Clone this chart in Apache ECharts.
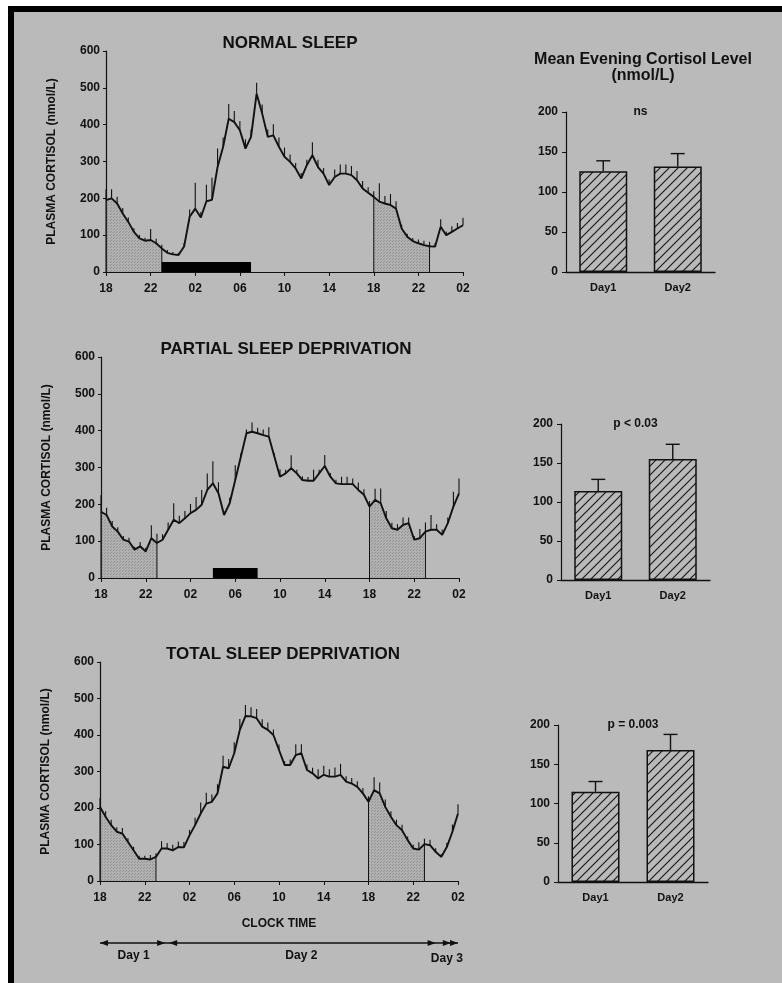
<!DOCTYPE html>
<html>
<head>
<meta charset="utf-8">
<script src="https://cdn.jsdelivr.net/npm/echarts@6/dist/echarts.min.js"></script>
<style>
  html, body { margin: 0; padding: 0; background: #fff; }
  #c { width: 782px; height: 983px; }
</style>
</head>
<body>
<div id="c"></div>
<script>
// ---- data -------------------------------------------------------------
// Plasma cortisol (nmol/L), one sample every 30 min from 18:00 (day 1) to 02:00 (day 3)
const sampleStep = 0.5; // hours
const hourLabels = ['18', '22', '02', '06', '10', '14', '18', '22', '02'];

const normalSleep = [195,200,186,159,136,109,91,85,87,78,
                     64,52,48,46,69,150,172,148,192,196,
                     285,340,416,407,385,335,367,484,430,367,
                     371,340,313,299,281,254,290,317,285,267,
                     236,258,267,267,263,249,227,215,204,191,
                     186,182,172,118,96,84,78,73,70,69,
                     123,100,109,118,127];
const normalSleepSem = [30,25,18,15,12,10,10,8,30,12,
                        10,8,6,6,10,20,70,15,45,60,
                        50,25,40,30,25,25,20,30,25,20,
                        30,25,25,20,15,15,15,35,20,15,
                        15,20,25,25,25,25,20,15,15,50,
                        20,30,20,10,8,8,10,12,12,10,
                        20,10,15,15,20];

const partialDep = [180,171,140,126,104,99,77,86,72,108,
                    95,104,131,158,149,162,176,185,199,239,
                    257,230,171,203,266,329,393,397,393,388,
                    384,329,275,284,298,284,266,264,264,284,
                    304,275,257,255,255,255,239,226,194,212,
                    203,162,135,131,144,149,104,108,126,131,
                    131,117,149,194,230];
const partialDepSem = [45,20,15,12,10,10,8,12,10,35,
                       25,15,20,45,20,20,25,35,40,45,
                       60,30,10,15,40,10,10,25,15,15,
                       25,10,20,10,35,10,10,10,30,10,
                       30,10,10,20,20,15,20,15,15,30,
                       40,20,15,15,20,15,10,25,25,40,
                       15,15,15,40,40];

const totalDep = [203,176,153,135,130,107,84,61,61,59,
                  66,89,89,84,93,92,125,153,185,212,
                  217,240,313,309,350,414,452,451,446,423,
                  414,400,359,318,318,345,350,304,295,281,
                  291,286,286,291,272,267,258,240,217,249,
                  240,203,176,153,139,112,89,86,101,98,
                  80,66,93,135,185];
const totalDepSem = [25,15,15,12,15,10,10,8,8,12,
                     10,20,15,15,15,15,15,20,30,30,
                     20,25,30,25,30,30,30,25,25,20,
                     20,15,15,10,15,30,25,15,15,25,
                     25,20,25,30,15,15,15,15,15,35,
                     30,20,15,15,15,10,10,20,15,15,
                     10,8,12,20,25];

const panelTitles = ['NORMAL SLEEP', 'PARTIAL SLEEP DEPRIVATION', 'TOTAL SLEEP DEPRIVATION'];
// evening windows (hours after 18:00 on day 1) used for the mean evening level
const eveningWindows = [[0, 5], [24, 29]];
// lights-off periods [start, end, drawn height] in hours after 18:00
const sleepPeriods = [[5, 13, 27], [10, 14, 27], null];

// Mean evening cortisol, Day1 vs Day2, with SEM
const barDays = ['Day1', 'Day2'];
const barMeanNormal = [126, 132];
const barSemNormal = [13, 16];
const barMeanPartial = [114, 155];
const barSemPartial = [15, 19];
const barMeanTotal = [115, 168];
const barSemTotal = [13, 20];
const pLabels = ['ns', 'p < 0.03', 'p = 0.003'];

// Day spans along the clock-time axis (hours after 18:00)
const dayMarks = [0, 6, 30, 32];
const dayNames = ['Day 1', 'Day 2', 'Day 3'];

// ---- drawing ------------------------------------------------------------
const FONT = '"Liberation Sans", Arial, Helvetica, sans-serif';
const INK = '#111';
const BG = '#bababa';

const curves = [normalSleep, partialDep, totalDep];
const curveSem = [normalSleepSem, partialDepSem, totalDepSem];
const barMeans = [barMeanNormal, barMeanPartial, barMeanTotal];
const barSems = [barSemNormal, barSemPartial, barSemTotal];

const lineGrids = [
  { left: 106, top: 51, width: 357, height: 221 },
  { left: 101, top: 357, width: 358, height: 221 },
  { left: 100, top: 662, width: 358, height: 219 }
];
const barGrids = [
  { left: 566, top: 112, width: 149, height: 160 },
  { left: 561, top: 424, width: 149, height: 156 },
  { left: 558, top: 725, width: 150, height: 157 }
];
const titlePos = [[290, 43, 17], [286, 349, 17], [283, 654, 17]];

function hatchCanvas() {
  const c = document.createElement('canvas');
  c.width = 9; c.height = 9;
  const g = c.getContext('2d');
  g.strokeStyle = '#1a1a1a';
  g.lineWidth = 1.2;
  g.beginPath();
  g.moveTo(0, 9); g.lineTo(9, 0);
  g.moveTo(-3, 3); g.lineTo(3, -3);
  g.moveTo(6, 12); g.lineTo(12, 6);
  g.stroke();
  return c;
}
function shadeCanvas() {
  const c = document.createElement('canvas');
  c.width = 3; c.height = 3;
  const g = c.getContext('2d');
  g.fillStyle = 'rgba(150,150,150,0.28)';
  g.fillRect(0, 0, 3, 3);
  g.fillStyle = 'rgba(95,95,95,0.35)';
  g.fillRect(0, 0, 1, 1);
  g.fillRect(2, 1, 1, 1);
  return c;
}
const hatch = { image: hatchCanvas(), repeat: 'repeat' };
const shade = { image: shadeCanvas(), repeat: 'repeat' };

const labelStyle = { color: INK, fontWeight: 'bold', fontFamily: FONT, fontSize: 12 };
const axisLineStyle = { show: true, onZero: false, lineStyle: { color: INK, width: 1.2 } };

function tickRender(params, api) {
  const t = api.value(0), v = api.value(1), e = api.value(2);
  const a = api.coord([t, v]);
  const b = api.coord([t, v + e]);
  return { type: 'line', shape: { x1: a[0], y1: a[1], x2: b[0], y2: b[1] },
           style: { stroke: INK, lineWidth: 1.1 } };
}
function sleepRender(params, api) {
  const a = api.coord([api.value(0), 0]);
  const b = api.coord([api.value(1), api.value(2)]);
  return { type: 'rect', shape: { x: a[0], y: b[1], width: b[0] - a[0], height: a[1] - b[1] },
           style: { fill: '#000' } };
}
function barErrRender(params, api) {
  const i = api.value(0), v = api.value(1), e = api.value(2);
  const a = api.coord([i, v]);
  const b = api.coord([i, v + e]);
  const st = { stroke: INK, lineWidth: 1.4 };
  return { type: 'group', children: [
    { type: 'line', shape: { x1: a[0], y1: a[1], x2: b[0], y2: b[1] }, style: st },
    { type: 'line', shape: { x1: b[0] - 7, y1: b[1], x2: b[0] + 7, y2: b[1] }, style: st }
  ] };
}

const grid = [], xAxis = [], yAxis = [], series = [];

lineGrids.forEach((gr, i) => {
  grid.push(gr);
  xAxis.push({
    gridIndex: i, type: 'value', min: 0, max: 32, interval: 4,
    axisLine: axisLineStyle, axisTick: { show: true, length: 4, lineStyle: { color: INK } },
    splitLine: { show: false },
    axisLabel: Object.assign({}, labelStyle, { margin: 11, formatter: v => hourLabels[Math.round(v / 4)] }),
    name: i === 2 ? 'CLOCK TIME' : '', nameLocation: 'middle', nameGap: 37,
    nameTextStyle: Object.assign({}, labelStyle)
  });
  yAxis.push({
    gridIndex: i, type: 'value', min: 0, max: 600, interval: 100,
    axisLine: axisLineStyle, axisTick: { show: true, length: 3, lineStyle: { color: INK } },
    splitLine: { show: false },
    axisLabel: Object.assign({}, labelStyle, { margin: 6 }),
    name: 'PLASMA CORTISOL (nmol/L)', nameLocation: 'middle', nameRotate: 90, nameGap: 48,
    nameTextStyle: Object.assign({}, labelStyle, { fontSize: 12 })
  });

  const vals = curves[i];
  const pts = vals.map((v, k) => [k * sampleStep, v]);

  // shaded evening windows and their boundary lines
  eveningWindows.forEach(([s, e]) => {
    const i0 = Math.round(s / sampleStep), i1 = Math.round(e / sampleStep);
    series.push({
      type: 'line', xAxisIndex: i, yAxisIndex: i, data: pts.slice(i0, i1 + 1),
      symbol: 'none', lineStyle: { width: 0, opacity: 0 }, areaStyle: { color: shade, opacity: 1 },
      silent: true, z: 1
    });
    [s, e].forEach(t => {
      const v = vals[Math.round(t / sampleStep)];
      series.push({
        type: 'line', xAxisIndex: i, yAxisIndex: i, data: [[t, 0], [t, v]],
        symbol: 'none', lineStyle: { color: INK, width: 1 }, silent: true, z: 2
      });
    });
  });

  // lights-off bar
  if (sleepPeriods[i]) {
    series.push({
      type: 'custom', xAxisIndex: i, yAxisIndex: i, renderItem: sleepRender,
      data: [sleepPeriods[i]], encode: { x: [0, 1], y: 2 }, silent: true, z: 3
    });
  }

  // SEM ticks above each sample
  series.push({
    type: 'custom', xAxisIndex: i, yAxisIndex: i, renderItem: tickRender,
    data: vals.map((v, k) => [k * sampleStep, v, curveSem[i][k]]),
    encode: { x: 0, y: 1 }, silent: true, z: 4
  });

  // mean cortisol profile
  series.push({
    type: 'line', xAxisIndex: i, yAxisIndex: i, data: pts, symbol: 'none',
    lineStyle: { color: INK, width: 1.9 }, silent: true, z: 5
  });
});

barGrids.forEach((gr, j) => {
  const idx = 3 + j;
  grid.push(gr);
  xAxis.push({
    gridIndex: idx, type: 'category', data: barDays,
    axisLine: { show: true, lineStyle: { color: INK, width: 1.3 } }, axisTick: { show: false },
    axisLabel: Object.assign({}, labelStyle, { fontSize: 11, margin: 10 })
  });
  yAxis.push({
    gridIndex: idx, type: 'value', min: 0, max: 200, interval: 50,
    axisLine: { show: true, lineStyle: { color: INK, width: 1.2 } },
    axisTick: { show: true, length: 4, lineStyle: { color: INK } },
    splitLine: { show: false },
    axisLabel: Object.assign({}, labelStyle, { margin: 8 })
  });
  series.push({
    type: 'bar', xAxisIndex: idx, yAxisIndex: idx, data: barMeans[j], barWidth: 48,
    itemStyle: { color: hatch, borderColor: INK, borderWidth: 1.5 }, silent: true, z: 2
  });
  series.push({
    type: 'custom', xAxisIndex: idx, yAxisIndex: idx, renderItem: barErrRender,
    data: barMeans[j].map((v, k) => [k, v, barSems[j][k]]), encode: { x: 0, y: 1 },
    silent: true, z: 3
  });
});

const chart = echarts.init(document.getElementById('c'), null, { renderer: 'canvas' });
chart.setOption({
  backgroundColor: BG,
  animation: false,
  grid, xAxis, yAxis, series
});

// ---- annotations --------------------------------------------------------
function txt(text, x, y, size, extra) {
  return Object.assign({
    type: 'text', silent: true, z: 10,
    style: { text, x, y, fill: INK, font: 'bold ' + size + 'px ' + FONT,
             textAlign: 'center', textVerticalAlign: 'middle', align: 'center', verticalAlign: 'middle' }
  }, extra || {});
}
const g = [];
// page frame
g.push({ type: 'rect', silent: true, shape: { x: 0, y: 0, width: 8, height: 983 }, style: { fill: '#fff' } });
g.push({ type: 'rect', silent: true, shape: { x: 0, y: 0, width: 782, height: 6 }, style: { fill: '#fff' } });
g.push({ type: 'rect', silent: true, shape: { x: 8, y: 6, width: 6, height: 977 }, style: { fill: '#000' } });
g.push({ type: 'rect', silent: true, shape: { x: 8, y: 6, width: 774, height: 6 }, style: { fill: '#000' } });

panelTitles.forEach((t, i) => g.push(txt(t, titlePos[i][0], titlePos[i][1], titlePos[i][2])));
g.push(txt('Mean Evening Cortisol Level', 643, 60, 16));
g.push(txt('(nmol/L)', 643, 76, 16));

barGrids.forEach((gr, j) => {
  const y = chart.convertToPixel({ yAxisIndex: 3 + j }, 200);
  g.push(txt(pLabels[j], gr.left + gr.width / 2, y, 12));
});

// day spans under the clock-time axis
const xs = dayMarks.map(t => chart.convertToPixel({ xAxisIndex: 2 }, t));
const ay = 943;
g.push({ type: 'line', silent: true, shape: { x1: xs[0], y1: ay, x2: xs[3], y2: ay }, style: { stroke: INK, lineWidth: 1.3 } });
function head(x, y, dir) {
  return { type: 'polygon', silent: true,
           shape: { points: [[x, y], [x - dir * 8, y - 3], [x - dir * 8, y + 3]] }, style: { fill: INK } };
}
g.push(head(xs[0], ay, -1));
g.push(head(xs[1] - 2, ay, 1));
g.push(head(xs[1] + 2, ay, -1));
g.push(head(xs[2], ay, 1));
g.push(head((xs[2] + xs[3]) / 2 + 4, ay, 1));
g.push(head(xs[3], ay, 1));
dayNames.forEach((d, k) => {
  g.push(txt(d, (xs[k] + xs[k + 1]) / 2, k === 2 ? 959 : 956, 12));
});

chart.setOption({ graphic: g });
</script>
</body>
</html>
